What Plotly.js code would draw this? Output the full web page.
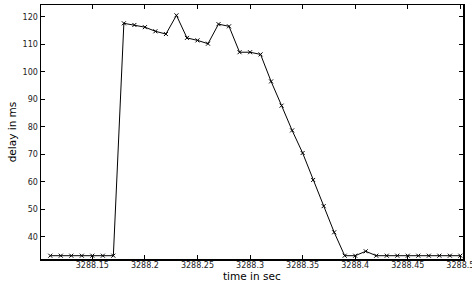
<!DOCTYPE html>
<html>
<head>
<meta charset="utf-8">
<script src="https://cdn.plot.ly/plotly-3.0.1.min.js"></script>
<style>html,body{margin:0;padding:0;background:#fff;}#chart{width:472px;height:281px;}</style>
</head>
<body>
<div id="chart"></div>
<script>
const timeSec = [3288.11,3288.12,3288.13,3288.14,3288.15,3288.16,3288.17,3288.18,3288.19,3288.20,
  3288.21,3288.22,3288.23,3288.24,3288.25,3288.26,3288.27,3288.28,3288.29,3288.30,
  3288.31,3288.32,3288.33,3288.34,3288.35,3288.36,3288.37,3288.38,3288.39,3288.40,
  3288.41,3288.42,3288.43,3288.44,3288.45,3288.46,3288.47,3288.48,3288.49,3288.50];
const delayMs = [33.2,33.2,33.2,33.2,33.2,33.2,33.2,117.6,117,116.2,
  114.7,113.7,120.5,112.3,111.4,110.2,117.3,116.5,107.1,107.1,
  106.3,96.5,87.7,78.7,70.5,60.7,51.2,41.7,33.2,33.2,
  34.8,33.2,33.2,33.2,33.2,33.2,33.2,33.2,33.2,33.2];
const xTickVals = [3288.15,3288.2,3288.25,3288.3,3288.35,3288.4,3288.45,3288.5];
const xTickText = ["3288.15","3288.2","3288.25","3288.3","3288.35","3288.4","3288.45","3288.5"];
const yTickVals = [40,50,60,70,80,90,100,110,120];
const xTitle = 'time in sec';
const yTitle = 'delay in ms';

const FONT = 'DejaVu Sans, Liberation Sans, Arial, sans-serif';
const trace = {
  x: timeSec, y: delayMs, type: 'scatter', mode: 'lines+markers',
  line: {color: '#000', width: 1},
  marker: {symbol: 'x-thin', size: 4, color: '#000', line: {color: '#000', width: 1}},
  hoverinfo: 'none'
};
const axisCommon = {
  showline: true, mirror: 'ticks', linecolor: '#000', linewidth: 1.5,
  ticks: 'inside', ticklen: 4, tickwidth: 1, tickcolor: '#000',
  showgrid: false, zeroline: false, ticklabeloverflow: 'allow',
  tickfont: {family: FONT, size: 8, color: '#222'}
};
const layout = {
  width: 472, height: 281,
  margin: {l: 41, r: 9, t: 5, b: 22},
  paper_bgcolor: '#fff', plot_bgcolor: '#fff',
  showlegend: false,
  xaxis: Object.assign({}, axisCommon, {
    range: [3288.1012, 3288.5025],
    tickmode: 'array', tickvals: xTickVals, ticktext: xTickText,
    ticklabelstandoff: -2
  }),
  yaxis: Object.assign({}, axisCommon, {
    range: [32, 124.25],
    tickmode: 'array', tickvals: yTickVals,
    title: {text: yTitle, standoff: 4, font: {family: FONT, size: 10.5, color: '#000'}}
  }),
  annotations: [{
    text: xTitle, xref: 'paper', yref: 'paper', x: 0.5, y: 0,
    xanchor: 'center', yanchor: 'middle', yshift: -17, showarrow: false,
    borderpad: 0, font: {family: FONT, size: 10.5, color: '#000'}
  }]
};
Plotly.newPlot('chart', [trace], layout, {displayModeBar: false, staticPlot: true});
</script>
</body>
</html>
